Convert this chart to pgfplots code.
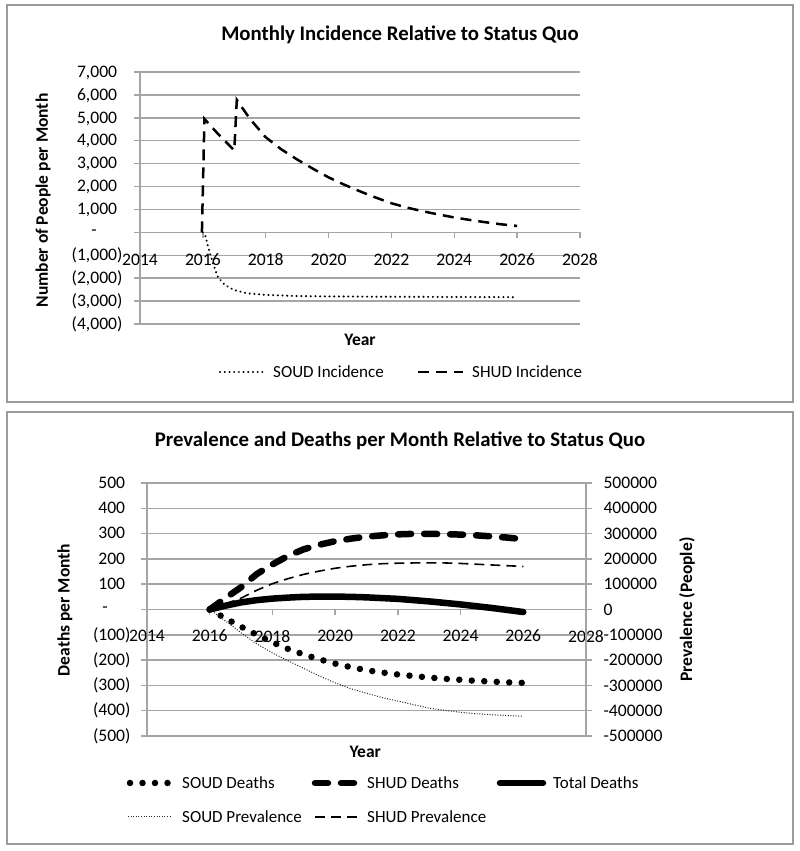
\documentclass[border=0pt]{standalone}
\usepackage{fontspec}
\setmainfont{Carlito}
\usepackage{pgfplots}
\pgfplotsset{compat=1.18}
\definecolor{gridgray}{RGB}{165,165,165}
\definecolor{boxgray}{RGB}{155,155,155}
\newcommand{\tf}{\fontsize{17}{20}\selectfont}
\newcommand{\kf}{\fontsize{17.6}{20}\selectfont}
\newcommand{\lf}{\bfseries\fontsize{17.5}{20}\selectfont}

\pgfplotstableread{
x y
2015.97 0
2016.05 4950
2016.5 4270
2017.0 3580
2017.08 5780
2017.5 4950
2018.0 4150
2018.5 3620
2019.0 3180
2019.5 2780
2020.0 2400
2020.5 2080
2021.0 1790
2021.5 1520
2022.0 1270
2022.5 1080
2023.0 920
2023.5 780
2024.0 650
2024.5 540
2025.0 440
2025.5 350
2026.0 280
}\shudinc

\pgfplotstableread{
x y
2016.0 0
2016.07 -100
2016.17 -650
2016.32 -1350
2016.48 -1960
2016.7 -2300
2017.0 -2520
2017.4 -2660
2018.0 -2730
2018.5 -2755
2019.0 -2780
2020.0 -2795
2021.0 -2805
2022.0 -2810
2023.0 -2815
2024.0 -2820
2025.0 -2825
2026.0 -2830
}\soudinc

\pgfplotstableread{
x soud shud total
2016.0 0 0 0
2016.5 -35 45 15
2017.0 -68 88 28
2017.5 -100 140 37
2018.0 -130 178 43
2018.5 -156 212 47
2019.0 -178 238 50
2019.5 -197 256 51
2020.0 -214 270 51
2020.5 -228 280 50
2021.0 -240 288 48
2021.5 -249 293 45
2022.0 -257 297 42
2022.5 -263 299 37
2023.0 -269 299 32
2023.5 -274 298 26
2024.0 -278 296 20
2024.5 -282 293 13
2025.0 -285 289 6
2025.5 -288 284 -2
2026.0 -290 278 -10
}\deaths

\pgfplotstableread{
x soud shud
2016.0 0 0
2016.5 -45000 22000
2017.0 -92000 45000
2017.5 -136000 76000
2018.0 -172000 102000
2018.5 -203000 122000
2019.0 -233000 139000
2019.5 -263000 152000
2020.0 -290000 163000
2020.5 -313000 171000
2021.0 -331000 177000
2021.5 -348000 181000
2022.0 -362000 183000
2022.5 -376000 184000
2023.0 -390000 184500
2023.5 -399000 184000
2024.0 -406000 182000
2024.5 -412000 179000
2025.0 -416000 176000
2025.5 -419000 173000
2026.0 -422000 170000
}\prev

\begin{document}
\begin{tikzpicture}
\useasboundingbox (0pt,0pt) rectangle (800pt,851pt);
\draw[boxgray, line width=2pt] (7pt,449pt) rectangle (793pt,846pt);
\draw[boxgray, line width=2pt] (7pt,7pt) rectangle (793pt,439pt);

\pgfplotsset{
  common/.style={
    scale only axis, font=\kf,
    xmin=2014, xmax=2028,
    axis x line*=middle, axis y line*=left,
    hide obscured x ticks=false,
    axis line style={gridgray, line width=1.5pt},
    tick style={gridgray, line width=1.5pt},
    tick align=outside, major tick length=6pt,
    ymajorgrids, grid style={gridgray, line width=1.5pt},
    xtick={2014,2016,2018,2020,2022,2024,2026,2028},
    xticklabels={2014,2016,2018,2020,2022,2024,2026,2028},
    clip=false,
  }
}

% ---------- top chart ----------
\node[font=\bfseries\fontsize{20.8}{24}\selectfont] at (400pt,816pt) {Monthly Incidence Relative to Status Quo};
\begin{axis}[common,
  at={(140pt,527pt)}, anchor=south west, width=440pt, height=252pt,
  ymin=-4000, ymax=7000,
  xticklabel style={yshift=-12pt},
  yticklabel style={xshift=-8pt},
  ytick={-4000,-3000,-2000,-1000,0,1000,2000,3000,4000,5000,6000,7000},
  yticklabels={{(4,000)},{(3,000)},{(2,000)},{(1,000)},{\makebox[31pt][l]{-}},{1,000\phantom{)}},{2,000\phantom{)}},{3,000\phantom{)}},{4,000\phantom{)}},{5,000\phantom{)}},{6,000\phantom{)}},{7,000\phantom{)}}},
  xlabel={\lf Year}, xlabel style={at={(axis description cs:0.5,-0.063)}, anchor=center},
  ylabel={\lf Number of People per Month}, ylabel style={at={(axis description cs:-0.22,0.49)}, anchor=center},
]
\addplot[black, line width=2.2pt, dash pattern=on 0.1pt off 4.6pt, line cap=round] table[x=x,y=y] {\soudinc};
\addplot[black, line width=2.5pt, dash pattern=on 11pt off 7pt] table[x=x,y=y] {\shudinc};
\end{axis}

\draw[black, line width=2.2pt, dash pattern=on 0.1pt off 4.6pt, line cap=round] (220pt,479pt) -- (263pt,479pt);
\node[anchor=west, inner sep=0pt, font=\tf] at (273pt,479pt) {SOUD Incidence};
\draw[black, line width=2.5pt, dash pattern=on 11pt off 7pt] (418pt,479pt) -- (463pt,479pt);
\node[anchor=west, inner sep=0pt, font=\tf] at (472pt,479pt) {SHUD Incidence};

% ---------- bottom chart ----------
\node[font=\bfseries\fontsize{20.8}{24}\selectfont] at (400pt,410pt) {Prevalence and Deaths per Month Relative to Status Quo};
\begin{axis}[common,
  at={(147pt,115pt)}, anchor=south west, width=439pt, height=253pt,
  ymin=-500, ymax=500,
  xticklabel style={yshift=-11pt},
  yticklabel style={xshift=-7pt},
  ytick={-500,-400,-300,-200,-100,0,100,200,300,400,500},
  yticklabels={{(500)},{(400)},{(300)},{(200)},{(100)},{\makebox[28pt][l]{-}},{100\phantom{)}},{200\phantom{)}},{300\phantom{)}},{400\phantom{)}},{500\phantom{)}}},
  xlabel={\lf Year}, xlabel style={at={(axis description cs:0.497,-0.063)}, anchor=center},
  ylabel={\lf Deaths per Month}, ylabel style={at={(axis description cs:-0.187,0.498)}, anchor=center},
]
\addplot[black, line width=6.5pt, dash pattern=on 0pt off 12.5pt, line cap=round] table[x=x,y=soud] {\deaths};
\addplot[black, line width=6.5pt, dash pattern=on 13pt off 13pt, line cap=round] table[x=x,y=shud] {\deaths};
\addplot[black, line width=6.5pt, line cap=round] table[x=x,y=total] {\deaths};
\end{axis}
\begin{axis}[
  scale only axis, font=\kf,
  at={(147pt,115pt)}, anchor=south west, width=439pt, height=253pt,
  xmin=2014, xmax=2028, ymin=-500000, ymax=500000,
  axis x line=none, axis y line*=right, xtick=\empty,
  axis line style={gridgray, line width=1.5pt},
  tick style={gridgray, line width=1.5pt},
  tick align=outside, major tick length=6pt,
  scaled y ticks=false,
  ytick={-500000,-400000,-300000,-200000,-100000,0,100000,200000,300000,400000,500000},
  yticklabels={-500000,-400000,-300000,-200000,-100000,0,100000,200000,300000,400000,500000},
  yticklabel style={anchor=west, xshift=8pt},
  ylabel={\lf Prevalence (People)}, ylabel style={at={(axis description cs:1.23,0.5)}, anchor=center, rotate=0},
  clip=false,
]
\addplot[black!85, line width=1pt, dash pattern=on 1pt off 1.6pt] table[x=x,y=soud] {\prev};
\addplot[black, line width=1.6pt, dash pattern=on 10pt off 6pt] table[x=x,y=shud] {\prev};
\end{axis}

% legend
\draw[black, line width=6.5pt, dash pattern=on 0pt off 12.5pt, line cap=round] (130pt,68pt) -- (175pt,68pt);
\node[anchor=west, inner sep=0pt, font=\tf] at (182pt,68pt) {SOUD Deaths};
\draw[black, line width=6.5pt, dash pattern=on 13pt off 13pt, line cap=round] (315pt,68pt) -- (357pt,68pt);
\node[anchor=west, inner sep=0pt, font=\tf] at (367pt,68pt) {SHUD Deaths};
\draw[black, line width=6.5pt, line cap=round] (500pt,68pt) -- (543pt,68pt);
\node[anchor=west, inner sep=0pt, font=\tf] at (553pt,68pt) {Total Deaths};
\draw[black!85, line width=1pt, dash pattern=on 1pt off 1.6pt] (128pt,34pt) -- (172pt,34pt);
\node[anchor=west, inner sep=0pt, font=\tf] at (182pt,34pt) {SOUD Prevalence};
\draw[black, line width=1.6pt, dash pattern=on 10pt off 6pt] (315pt,34pt) -- (360pt,34pt);
\node[anchor=west, inner sep=0pt, font=\tf] at (367pt,34pt) {SHUD Prevalence};
\end{tikzpicture}
\end{document}
